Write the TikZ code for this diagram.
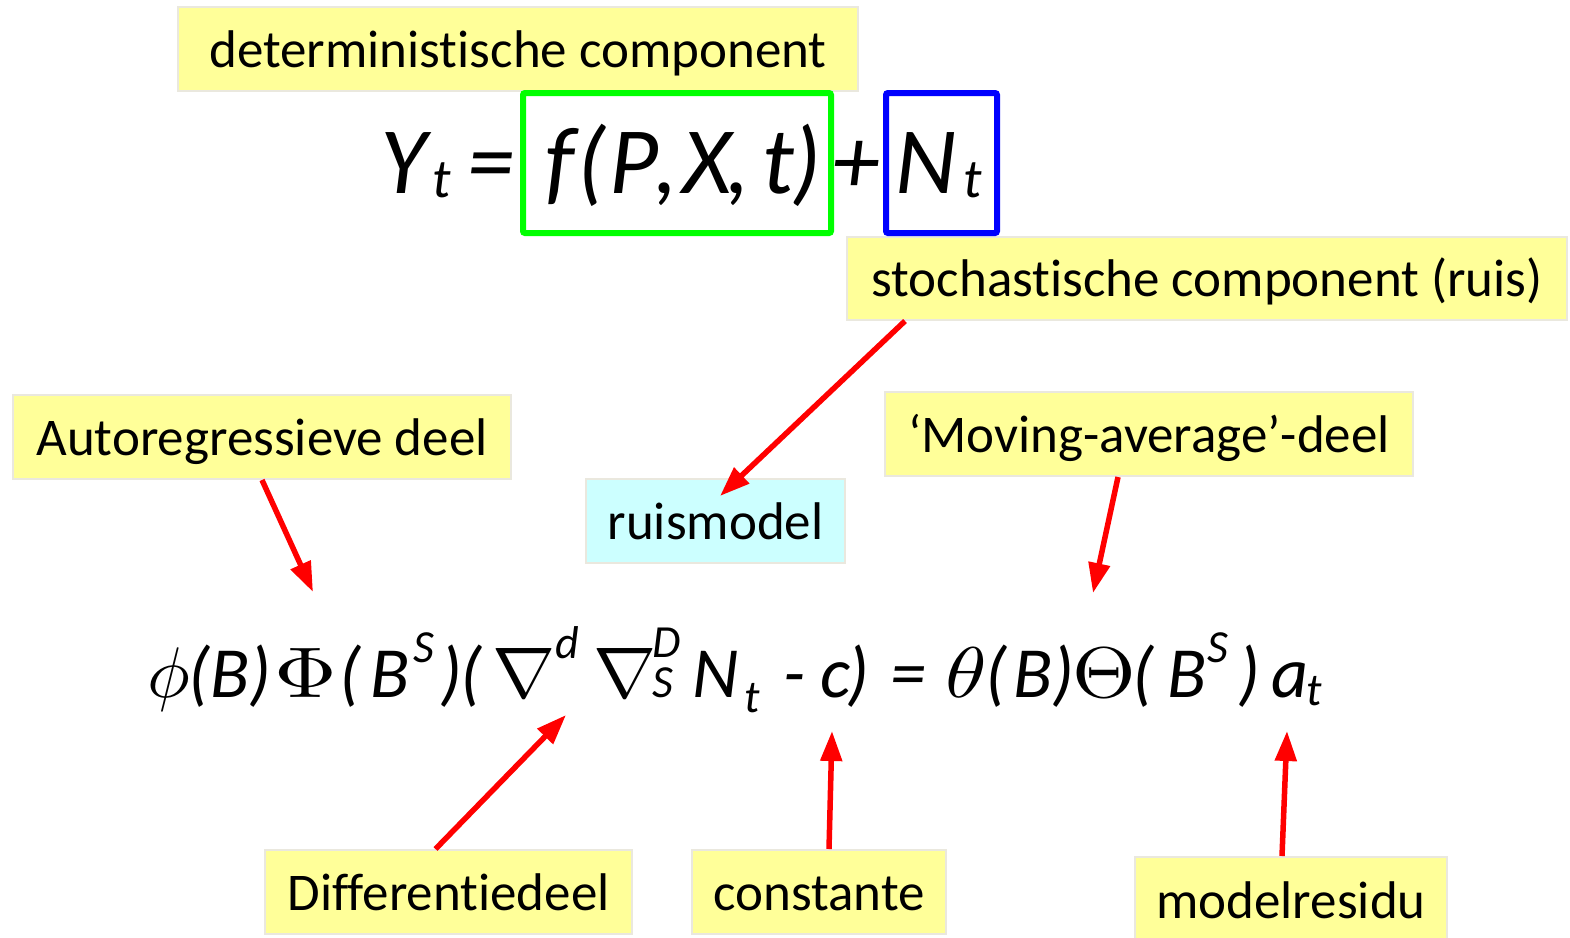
\documentclass[tikz,border=0pt]{standalone}
\usepackage[no-math]{fontspec}
\setmainfont{Carlito}[Ligatures={NoCommon}]
\usetikzlibrary{arrows.meta}
\definecolor{lblyellow}{HTML}{FFFF99}
\definecolor{lblcyan}{HTML}{CCFFFF}
\definecolor{boxgray}{HTML}{EAE8DE}
\definecolor{eqgreen}{HTML}{00FF00}
\definecolor{eqblue}{HTML}{0000FF}
\newcommand{\cb}[2]{\makebox[#1bp][l]{#2}}
\newcommand{\rs}[2]{\raisebox{#1bp}{\fontsize{46bp}{50bp}\selectfont #2}}
\newcommand{\usub}[1]{\raisebox{-4bp}{\fontsize{55bp}{55bp}\selectfont #1}}
\newcommand{\gk}[2][7.2]{\scalebox{#1}[7.2]{\fontsize{10bp}{12bp}\selectfont$#2$}}
\begin{document}
\begin{tikzpicture}[x=1bp,y=-1bp,
 lbl/.style={draw=boxgray, line width=2bp, fill=lblyellow, inner sep=0pt, text height=40bp, text depth=4bp, font=\fontsize{53bp}{60bp}\selectfont},
 arr/.style={draw=red, line width=5.5bp, -{Triangle[length=30bp,width=21bp]}},
 eqbox/.style={line width=6bp, rounded corners=2bp, inner sep=0pt},
 eqtxt/.style={anchor=base west, inner sep=0pt}]
\useasboundingbox (0,0) rectangle (1570,937);
% label boxes
\node[lbl, minimum width=680bp, minimum height=84bp] (det) at (518,49) {deterministische component};
\node[lbl, minimum width=720bp, minimum height=83bp] (sto) at (1207,278.5) {stochastische component (ruis)};
\node[lbl, minimum width=498bp, minimum height=84bp] (ar) at (262,437) {Autoregressieve deel};
\node[lbl, minimum width=528bp, minimum height=84bp] (ma) at (1149,434) {‘Moving-average’-deel};
\node[lbl, fill=lblcyan, minimum width=259bp, minimum height=84bp] (rm) at (715.5,521) {ruismodel};
\node[lbl, minimum width=367bp, minimum height=84bp] (dif) at (448.5,892) {Differentiedeel};
\node[lbl, minimum width=254bp, minimum height=84bp] (con) at (819,892) {constante};
\node[lbl, minimum width=312bp, minimum height=86bp] (res) at (1291,900) {modelresidu};
% equation boxes
\node[eqbox, draw=eqgreen, minimum width=308bp, minimum height=140bp] (fb) at (677,163) {};
\node[eqbox, draw=eqblue, minimum width=111bp, minimum height=140bp] (nb) at (941.5,163) {};
% top equation
\node[eqtxt, font=\fontsize{95bp}{100bp}\selectfont\itshape] (topeq) at (380,193)
 {\cb{52}{Y}\cb{35}{\usub{t}}\cb{78}{=}\cb{32}{f}\cb{32}{(}\cb{45}{P}\cb{28}{,}\cb{44}{X}\cb{36}{,}\cb{30}{t}\cb{40}{)}\cb{63}{+}\cb{68}{N}\usub{t}};
% lower equation
\node[eqtxt, font=\fontsize{72bp}{80bp}\selectfont\itshape] (loweq) at (147,697)
 {\cb{41}{\gk{\phi}}\cb{86}{(B)}\cb{65}{\gk[8.7]{\Phi}}\cb{31}{(}\cb{43}{B}\cb{27}{\rs{35}{S}}\cb{20}{)}\cb{32}{(}\cb{63}{\gk[7.6]{\nabla}}\cb{38}{\rs{39}{d}}\cb{59}{\gk[7.6]{\nabla}}\cb{40}{\rlap{\rs{40}{D}}\rs{0}{S}}\cb{52}{N}\cb{39}{\rs{-15}{t}}\cb{37}{-}\cb{27}{c}\cb{43}{)}\cb{55}{=}\cb{40}{\gk[8.4]{\theta}}\cb{28}{(}\cb{39}{B}\cb{20}{)}\cb{60}{\gk[8.2]{\Theta}}\cb{35}{(}\cb{40}{B}\cb{31}{\rs{35}{S}}\cb{33}{)}\cb{35}{a}\rs{-8}{t}};
% arrows
\coordinate (tipAR) at (313,592);
\coordinate (tipMA) at (1093,593);
\coordinate (tipRM) at (720,496);
\coordinate (tipDIF) at (566,715);
\coordinate (tipCON) at (832,731);
\coordinate (tipRES) at (1287,731);
\draw[arr] (ar.south) -- (tipAR);
\draw[arr] ([xshift=-31bp]ma.south) -- (tipMA);
\draw[arr] ([xshift=-302bp]sto.south) -- (tipRM);
\draw[arr] ([xshift=-13bp]dif.north) -- (tipDIF);
\draw[arr] ([xshift=10bp]con.north) -- (tipCON);
\draw[arr] ([xshift=-9bp]res.north) -- (tipRES);
\end{tikzpicture}
\end{document}
